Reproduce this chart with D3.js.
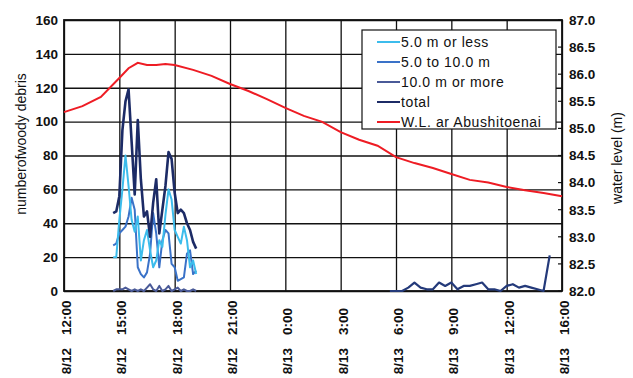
<!DOCTYPE html>
<html>
<head>
<meta charset="utf-8">
<script src="https://cdn.jsdelivr.net/npm/d3@7"></script>
<style>
  html, body { margin: 0; padding: 0; background: #fff; }
  svg text { font-family: "Liberation Sans", Arial, sans-serif; fill: #111; }
</style>
</head>
<body>
<svg id="chart" width="633" height="378"></svg>
<script>
// Hours counted from 8/12 12:00
const tickHours = [0, 3, 6, 9, 12, 15, 18, 21, 24, 27];
const tickDates = ["8/12", "8/12", "8/12", "8/12", "8/13", "8/13", "8/13", "8/13", "8/13", "8/13"];
const tickTimes = ["12:00", "15:00", "18:00", "21:00", "0:00", "3:00", "6:00", "9:00", "12:00", "16:00"];
const debrisTicks = [0, 20, 40, 60, 80, 100, 120, 140, 160];
const levelTicks = [82.0, 82.5, 83.0, 83.5, 84.0, 84.5, 85.0, 85.5, 86.0, 86.5, 87.0];

// 10-minute counts during the main passage (14:40 - 19:10)
const burstHours = d3.range(28).map(i => 2 + 40 / 60 + i / 6);
const lessThan5 = [20, 20, 42, 60, 80, 62, 42, 35, 44, 18, 30, 36, 24, 14, 18, 30, 26, 45, 60, 54, 36, 32, 28, 38, 30, 14, 18, 10];
const from5to10 = [27, 28, 34, 36, 38, 44, 55, 48, 14, 10, 8, 11, 22, 46, 34, 14, 30, 36, 34, 16, 14, 6, 7, 8, 22, 24, 10, 12];
const over10 = [0, 1, 1, 1, 2, 1, 0, 1, 0, 1, 0, 2, 4, 1, 0, 3, 0, 1, 3, 0, 1, 2, 0, 1, 0, 0, 1, 0];
const totalBurst = [46, 47, 56, 95, 112, 119, 88, 57, 101, 66, 44, 47, 32, 52, 66, 34, 48, 62, 82, 78, 58, 46, 48, 46, 40, 36, 29, 25];

// 20-minute totals on the morning of 8/13 (05:40 - 14:20)
const laterHours = d3.range(27).map(i => 17 + 40 / 60 + i / 3);
const totalLater = [0, 0, 0, 2, 5, 2, 1, 1, 5, 3, 5, 1, 3, 3, 4, 5, 1, 1, 0, 3, 4, 2, 3, 2, 1, 0, 21];

// Water level at Abushitoenai (m)
const wlHours = [0, 1, 2, 3, 3.5, 4, 4.5, 5, 5.5, 6, 7, 8, 9, 10, 11, 12, 13, 14, 15, 16, 17, 18, 19, 20, 21, 22, 23, 24, 25, 26, 27];
const waterLevel = [85.30, 85.41, 85.58, 85.93, 86.11, 86.21, 86.17, 86.17, 86.19, 86.17, 86.08, 85.97, 85.82, 85.69, 85.54, 85.38, 85.23, 85.12, 84.93, 84.79, 84.68, 84.47, 84.36, 84.27, 84.16, 84.05, 84.00, 83.92, 83.86, 83.81, 83.75];

const legendLabels = ["5.0 m or less", "5.0 to 10.0 m", "10.0 m or more", "total", "W.L. ar Abushitoenai"];
const colors = { less5: "#3cbcec", mid: "#3a72c8", over10: "#4a5a98", total: "#1c2b66", wl: "#ee1c24" };

const svg = d3.select("#chart");
const plotLeft = 64, plotRight = 562, plotTop = 20, plotBottom = 291;

const x = d3.scaleLinear().domain([0, 27]).range([plotLeft, plotRight]);
const yL = d3.scaleLinear().domain([0, 160]).range([plotBottom, plotTop]);
const yR = d3.scaleLinear().domain([82, 87]).range([plotBottom, plotTop]);

// grid
const grid = svg.append("g");
grid.append("g")
  .attr("transform", `translate(${plotLeft},0)`)
  .call(d3.axisLeft(yL).tickValues(debrisTicks).tickSize(-(plotRight - plotLeft)).tickFormat(""))
  .call(g => g.select(".domain").remove())
  .call(g => g.selectAll("line").attr("stroke", "#111").attr("stroke-width", 1.3));
grid.append("g")
  .attr("transform", `translate(0,${plotBottom})`)
  .call(d3.axisBottom(x).tickValues(tickHours).tickSize(-(plotBottom - plotTop)).tickFormat(""))
  .call(g => g.select(".domain").remove())
  .call(g => g.selectAll("line").attr("stroke", "#111").attr("stroke-width", 1.3));

// left axis labels
const axL = svg.append("g").attr("transform", `translate(${plotLeft},0)`)
  .call(d3.axisLeft(yL).tickValues(debrisTicks).tickSize(0).tickPadding(6));
axL.select(".domain").remove();
axL.selectAll("text").attr("font-size", 13.5).attr("font-weight", "bold")
  .attr("font-family", "Liberation Sans, Arial, sans-serif").attr("fill", "#111");

// right axis with inward ticks
const axR = svg.append("g").attr("transform", `translate(${plotRight},0)`)
  .call(d3.axisRight(yR).tickValues(levelTicks).tickSize(0).tickPadding(7).tickFormat(d3.format(".1f")));
axR.select(".domain").remove();
axR.selectAll("text").attr("font-size", 13.5).attr("font-weight", "bold")
  .attr("font-family", "Liberation Sans, Arial, sans-serif").attr("fill", "#111");
svg.append("g").selectAll("line").data(levelTicks).join("line")
  .attr("x1", plotRight - 4).attr("x2", plotRight)
  .attr("y1", d => yR(d)).attr("y2", d => yR(d))
  .attr("stroke", "#111").attr("stroke-width", 1.2);

// x labels: time right-aligned toward the axis, date below it
const xl = svg.append("g");
tickHours.forEach((h, i) => {
  const cx = x(h) + 7;
  xl.append("text")
    .attr("transform", `translate(${cx},335) rotate(-90)`)
    .attr("text-anchor", "start").attr("font-size", 13.5).attr("font-weight", "bold")
    .text(tickTimes[i]);
  xl.append("text")
    .attr("transform", `translate(${cx},348) rotate(-90)`)
    .attr("text-anchor", "end").attr("font-size", 13.5).attr("font-weight", "bold")
    .text(tickDates[i]);
});

// axis titles
svg.append("text").attr("transform", "translate(26,144) rotate(-90)")
  .attr("text-anchor", "middle").attr("font-size", 14).text("numberofwoody debris");
svg.append("text").attr("transform", "translate(622,158) rotate(-90)")
  .attr("text-anchor", "middle").attr("font-size", 14).text("water level (m)");

// plot frame
svg.append("rect").attr("x", plotLeft).attr("y", plotTop).attr("width", plotRight - plotLeft).attr("height", plotBottom - plotTop)
  .attr("fill", "none").attr("stroke", "#111").attr("stroke-width", 1.8);

// series
const lineL = (xs, ys) => d3.line().x((d, i) => x(xs[i])).y(d => yL(d))(ys);
const lineR = (xs, ys) => d3.line().x((d, i) => x(xs[i])).y(d => yR(d))(ys);

svg.append("path").attr("d", lineR(wlHours, waterLevel))
  .attr("fill", "none").attr("stroke", colors.wl).attr("stroke-width", 2);

const series = [
  { vals: over10, color: colors.over10, w: 2 },
  { vals: from5to10, color: colors.mid, w: 2 },
  { vals: lessThan5, color: colors.less5, w: 2 },
  { vals: totalBurst, color: colors.total, w: 2.6 }
];
series.forEach(s => {
  svg.append("path").attr("d", lineL(burstHours, s.vals))
    .attr("fill", "none").attr("stroke", s.color).attr("stroke-width", s.w)
    .attr("stroke-linejoin", "round");
});
svg.append("path").attr("d", lineL(laterHours, totalLater))
  .attr("fill", "none").attr("stroke", "#243a7a").attr("stroke-width", 2.2)
  .attr("stroke-linejoin", "round");

// legend
const lg = svg.append("g");
lg.append("rect").attr("x", 362).attr("y", 30).attr("width", 194).attr("height", 99)
  .attr("fill", "#fff").attr("stroke", "#111").attr("stroke-width", 1.2);
const legendColors = [colors.less5, colors.mid, colors.over10, colors.total, colors.wl];
legendLabels.forEach((lab, i) => {
  const yy = 42 + i * 20;
  lg.append("line").attr("x1", 377).attr("x2", 400).attr("y1", yy).attr("y2", yy)
    .attr("stroke", legendColors[i]).attr("stroke-width", 2);
  lg.append("text").attr("x", 401).attr("y", yy + 5).attr("font-size", 14)
    .attr("letter-spacing", 0.6).text(lab);
});
</script>
</body>
</html>
